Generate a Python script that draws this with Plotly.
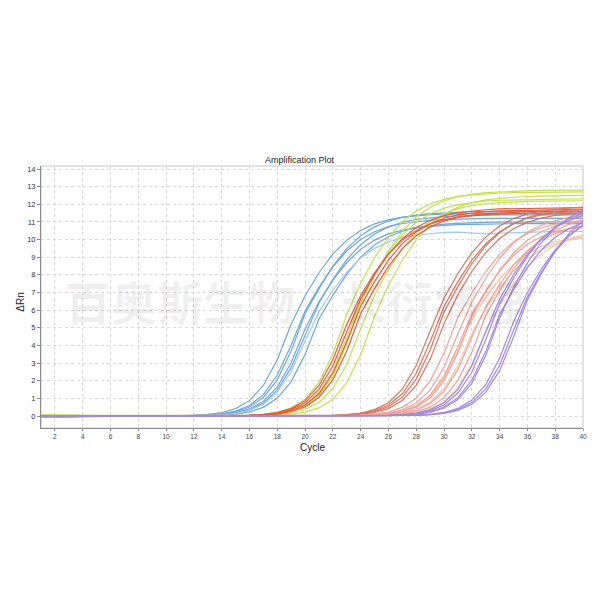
import plotly.graph_objects as go

cycles = [1, 2, 3, 4, 5, 6, 7, 8, 9, 10, 11, 12, 13, 14, 15, 16, 17, 18, 19, 20,
          21, 22, 23, 24, 25, 26, 27, 28, 29, 30, 31, 32, 33, 34, 35, 36, 37, 38, 39, 40]

x_ticks = [2, 4, 6, 8, 10, 12, 14, 16, 18, 20, 22, 24, 26, 28, 30, 32, 34, 36, 38, 40]
y_ticks = [0, 1, 2, 3, 4, 5, 6, 7, 8, 9, 10, 11, 12, 13, 14]

# ---- blue group ----
blue_1 = [-0.06, -0.04, -0.02, -0.01, 0, 0, 0, 0, 0, 0.01,
          0.02, 0.04, 0.09, 0.20, 0.42, 0.87, 1.73, 3.19, 5.20, 6.82,
          8.12, 9.18, 9.97, 10.52, 10.89, 11.12, 11.27, 11.35, 11.41, 11.44,
          11.47, 11.48, 11.5, 11.5, 11.5, 11.5, 11.5, 11.5, 11.5, 11.5]
blue_2 = [-0.05, -0.04, -0.02, 0, 0, 0, 0, 0, 0, 0,
          0.01, 0.03, 0.06, 0.13, 0.28, 0.59, 1.21, 2.32, 4.03, 5.95,
          7.29, 8.46, 9.35, 10.00, 10.44, 10.73, 10.91, 11.02, 11.09, 11.13,
          11.16, 11.18, 11.2, 11.2, 11.2, 11.2, 11.2, 11.2, 11.2, 11.2]
blue_3 = [-0.07, -0.05, -0.03, -0.01, 0, 0, 0, 0, 0, 0,
          0.01, 0.02, 0.05, 0.11, 0.24, 0.51, 1.05, 2.05, 3.68, 5.80,
          7.22, 8.48, 9.49, 10.22, 10.72, 11.05, 11.26, 11.39, 11.47, 11.52,
          11.55, 11.58, 11.59, 11.6, 11.6, 11.6, 11.6, 11.6, 11.6, 11.6]
blue_4 = [-0.05, -0.03, -0.02, 0, 0, 0, 0, 0, 0, 0,
          0.01, 0.02, 0.04, 0.09, 0.19, 0.40, 0.83, 1.64, 3.02, 4.93,
          6.46, 7.70, 8.70, 9.45, 9.97, 10.32, 10.54, 10.68, 10.76, 10.81,
          10.85, 10.87, 10.88, 10.9, 10.9, 10.9, 10.9, 10.9, 10.9, 10.9]
blue_5 = [-0.06, -0.05, -0.03, -0.01, 0, 0, 0, 0, 0, 0,
          0.01, 0.02, 0.04, 0.08, 0.16, 0.35, 0.72, 1.46, 2.74, 4.62,
          6.41, 7.74, 8.86, 9.71, 10.32, 10.72, 10.98, 11.14, 11.24, 11.30,
          11.34, 11.37, 11.38, 11.4, 11.4, 11.4, 11.4, 11.4, 11.4, 11.4]
blue_6 = [-0.05, -0.04, -0.02, -0.01, 0, 0, 0, 0, 0, 0,
          0, 0.01, 0.02, 0.05, 0.11, 0.23, 0.49, 1.00, 1.95, 3.49,
          5.50, 6.84, 8.04, 9.00, 9.69, 10.16, 10.48, 10.68, 10.80, 10.88,
          10.92, 10.96, 10.98, 10.99, 11.0, 11.0, 11.0, 11.0, 11.0, 11.0]
lightblue_1 = [-0.05, -0.03, -0.02, 0, 0, 0, 0, 0, 0, 0,
               0.01, 0.01, 0.03, 0.07, 0.15, 0.32, 0.67, 1.34, 2.52, 4.25,
               5.90, 7.13, 8.16, 8.95, 9.50, 9.87, 10.11, 10.26, 10.35, 10.41,
               10.42, 10.35, 10.32, 10.36, 10.40, 10.42, 10.44, 10.45, 10.46, 10.47]

# ---- green group ----
green_1 = [0.05, 0.04, 0.03, 0.02, 0.01, 0.01, 0, 0, 0, 0,
           0, 0, 0, 0.01, 0.02, 0.05, 0.10, 0.22, 0.46, 0.96,
           1.91, 3.52, 5.74, 7.53, 8.97, 10.13, 11.01, 11.62, 12.03, 12.28,
           12.45, 12.53, 12.60, 12.64, 12.66, 12.67, 12.7, 12.7, 12.7, 12.7]
green_2 = [0.04, 0.04, 0.03, 0.02, 0.01, 0, 0, 0, 0, 0,
           0, 0, 0, 0, 0.01, 0.03, 0.07, 0.15, 0.31, 0.65,
           1.33, 2.55, 4.43, 6.53, 8.01, 9.29, 10.27, 10.98, 11.46, 11.78,
           11.98, 12.10, 12.18, 12.23, 12.25, 12.28, 12.3, 12.3, 12.3, 12.3]
green_3 = [0.05, 0.04, 0.03, 0.02, 0.01, 0, 0, 0, 0, 0,
           0, 0, 0, 0, 0.01, 0.03, 0.06, 0.13, 0.27, 0.56,
           1.16, 2.27, 4.06, 6.40, 7.96, 9.36, 10.47, 11.28, 11.83, 12.20,
           12.43, 12.57, 12.66, 12.71, 12.75, 12.77, 12.79, 12.8, 12.8, 12.8]
green_4 = [0.04, 0.03, 0.02, 0.02, 0.01, 0, 0, 0, 0, 0,
           0, 0, 0, 0, 0.01, 0.02, 0.04, 0.08, 0.17, 0.37,
           0.77, 1.56, 2.93, 4.94, 6.86, 8.28, 9.48, 10.39, 11.04, 11.47,
           11.75, 11.92, 12.03, 12.09, 12.14, 12.16, 12.18, 12.2, 12.2, 12.2]
green_5 = [0.05, 0.04, 0.03, 0.02, 0.01, 0, 0, 0, 0, 0,
           0, 0, 0, 0, 0, 0.01, 0.02, 0.05, 0.10, 0.22,
           0.46, 0.95, 1.88, 3.46, 5.65, 7.41, 8.83, 9.98, 10.84, 11.44,
           11.84, 12.09, 12.25, 12.34, 12.40, 12.44, 12.46, 12.48, 12.5, 12.5]

# ---- red group ----
red_1 = [0.01, 0.01, 0, 0, 0, 0, 0, 0, 0, 0,
         0, 0, 0, 0.01, 0.02, 0.04, 0.08, 0.17, 0.36, 0.75,
         1.51, 2.83, 4.78, 6.63, 8.01, 9.17, 10.05, 10.68, 11.09, 11.36,
         11.53, 11.63, 11.69, 11.74, 11.76, 11.78, 11.8, 11.8, 11.8, 11.8]
red_2 = [0.01, 0, 0, 0, 0, 0, 0, 0, 0, 0,
         0, 0, 0, 0.01, 0.02, 0.04, 0.09, 0.20, 0.42, 0.87,
         1.73, 3.19, 5.20, 6.82, 8.12, 9.18, 9.97, 10.52, 10.89, 11.12,
         11.27, 11.35, 11.41, 11.44, 11.47, 11.48, 11.5, 11.5, 11.5, 11.5]
red_3 = [0.01, 0.01, 0, 0, 0, 0, 0, 0, 0, 0,
         0, 0, 0, 0, 0.01, 0.03, 0.06, 0.14, 0.30, 0.62,
         1.26, 2.42, 4.21, 6.21, 7.62, 8.83, 9.77, 10.45, 10.90, 11.21,
         11.40, 11.51, 11.58, 11.63, 11.65, 11.68, 11.7, 11.7, 11.7, 11.7]
red_4 = [0.01, 0, 0, 0, 0, 0, 0, 0, 0, 0,
         0, 0, 0, 0, 0.01, 0.02, 0.05, 0.11, 0.24, 0.51,
         1.05, 2.05, 3.68, 5.80, 7.22, 8.48, 9.49, 10.22, 10.72, 11.05,
         11.26, 11.39, 11.47, 11.52, 11.55, 11.58, 11.59, 11.6, 11.6, 11.6]

# ---- dark red group ----
darkred_1 = [0.01, 0.01, 0, 0, 0, 0, 0, 0, 0, 0,
             0, 0, 0, 0, 0, 0, 0, 0, 0, 0.01,
             0.02, 0.04, 0.08, 0.17, 0.36, 0.75, 1.52, 2.86, 4.82, 6.69,
             8.08, 9.25, 10.14, 10.77, 11.19, 11.46, 11.63, 11.73, 11.79, 11.84]
darkred_2 = [0.01, 0, 0, 0, 0, 0, 0, 0, 0, 0,
             0, 0, 0, 0, 0, 0, 0, 0, 0, 0,
             0.01, 0.03, 0.06, 0.14, 0.30, 0.62, 1.26, 2.42, 4.21, 6.21,
             7.62, 8.83, 9.77, 10.45, 10.90, 11.21, 11.40, 11.51, 11.58, 11.63]
darkred_3 = [0.01, 0, 0, 0, 0, 0, 0, 0, 0, 0,
             0, 0, 0, 0, 0, 0, 0, 0, 0, 0,
             0.01, 0.02, 0.05, 0.12, 0.25, 0.52, 1.07, 2.09, 3.74, 5.90,
             7.34, 8.63, 9.65, 10.40, 10.90, 11.25, 11.46, 11.59, 11.67, 11.72]
darkred_4 = [0.01, 0, 0, 0, 0, 0, 0, 0, 0, 0,
             0, 0, 0, 0, 0, 0, 0, 0, 0, 0,
             0.01, 0.02, 0.04, 0.09, 0.20, 0.42, 0.88, 1.74, 3.21, 5.24,
             6.88, 8.19, 9.26, 10.06, 10.61, 10.99, 11.22, 11.37, 11.45, 11.51]

# ---- salmon group ----
salmon_1 = [0.01, 0.01, 0, 0, 0, 0, 0, 0, 0, 0,
            0, 0, 0, 0, 0, 0, 0, 0, 0, 0,
            0, 0.01, 0.02, 0.05, 0.11, 0.23, 0.49, 1.01, 1.98, 3.55,
            5.60, 6.97, 8.19, 9.16, 9.87, 10.35, 10.67, 10.88, 11.00, 11.08]
salmon_2 = [0.01, 0, 0, 0, 0, 0, 0, 0, 0, 0,
            0, 0, 0, 0, 0, 0, 0, 0, 0, 0,
            0, 0.01, 0.02, 0.04, 0.08, 0.16, 0.35, 0.73, 1.47, 2.76,
            4.66, 6.46, 7.81, 8.94, 9.80, 10.41, 10.81, 11.07, 11.24, 11.34]
salmon_3 = [0.01, 0, 0, 0, 0, 0, 0, 0, 0, 0,
            0, 0, 0, 0, 0, 0, 0, 0, 0, 0,
            0, 0, 0.01, 0.03, 0.06, 0.13, 0.28, 0.58, 1.18, 2.26,
            3.92, 5.79, 7.10, 8.23, 9.10, 9.73, 10.16, 10.44, 10.62, 10.73]
salmon_4 = [0.01, 0.01, 0, 0, 0, 0, 0, 0, 0, 0,
            0, 0, 0, 0, 0, 0, 0, 0, 0, 0,
            0, 0, 0.01, 0.02, 0.05, 0.11, 0.24, 0.50, 1.02, 2.00,
            3.58, 5.65, 7.03, 8.26, 9.24, 9.96, 10.44, 10.77, 10.97, 11.10]
salmon_5 = [0.01, 0, 0, 0, 0, 0, 0, 0, 0, 0,
            0, 0, 0, 0, 0, 0, 0, 0, 0, 0,
            0, 0, 0.01, 0.02, 0.03, 0.07, 0.16, 0.33, 0.70, 1.41,
            2.64, 4.46, 6.18, 7.47, 8.55, 9.37, 9.96, 10.34, 10.59, 10.75]
salmon_6 = [0.01, 0, 0, 0, 0, 0, 0, 0, 0, 0,
            0, 0, 0, 0, 0, 0, 0, 0, 0, 0,
            0, 0, 0, 0.01, 0.02, 0.05, 0.11, 0.24, 0.50, 1.03,
            2.02, 3.61, 5.70, 7.09, 8.33, 9.33, 10.04, 10.53, 10.86, 11.07]

# ---- peach group ----
peach_1 = [0.01, 0, 0, 0, 0, 0, 0, 0, 0, 0,
           0, 0, 0, 0, 0, 0, 0, 0, 0, 0,
           0, 0, 0.01, 0.03, 0.06, 0.12, 0.26, 0.54, 1.11, 2.13,
           3.71, 5.47, 6.71, 7.78, 8.60, 9.20, 9.60, 9.87, 10.03, 10.14]
peach_2 = [0.01, 0, 0, 0, 0, 0, 0, 0, 0, 0,
           0, 0, 0, 0, 0, 0, 0, 0, 0, 0,
           0, 0, 0.01, 0.02, 0.04, 0.08, 0.18, 0.38, 0.78, 1.55,
           2.85, 4.66, 6.11, 7.27, 8.22, 8.93, 9.42, 9.75, 9.96, 10.09]
peach_3 = [0.01, 0, 0, 0, 0, 0, 0, 0, 0, 0,
           0, 0, 0, 0, 0, 0, 0, 0, 0, 0,
           0, 0, 0, 0.01, 0.02, 0.04, 0.09, 0.18, 0.39, 0.80,
           1.59, 2.94, 4.79, 6.29, 7.48, 8.46, 9.19, 9.70, 10.04, 10.25]

# ---- purple group ----
purple_1 = [0.01, 0, 0, 0, 0, 0, 0, 0, 0, 0,
            0, 0, 0, 0, 0, 0, 0, 0, 0, 0,
            0, 0, 0, 0.01, 0.02, 0.04, 0.08, 0.17, 0.36, 0.75,
            1.51, 2.83, 4.78, 6.63, 8.01, 9.17, 10.05, 10.68, 11.09, 11.36]
purple_2 = [0.01, 0, 0, 0, 0, 0, 0, 0, 0, 0,
            0, 0, 0, 0, 0, 0, 0, 0, 0, 0,
            0, 0, 0, 0, 0.01, 0.03, 0.07, 0.14, 0.30, 0.63,
            1.30, 2.48, 4.32, 6.37, 7.81, 9.06, 10.02, 10.72, 11.18, 11.50]
purple_3 = [0.01, 0, 0, 0, 0, 0, 0, 0, 0, 0,
            0, 0, 0, 0, 0, 0, 0, 0, 0, 0,
            0, 0, 0, 0, 0.01, 0.02, 0.05, 0.11, 0.24, 0.51,
            1.04, 2.04, 3.65, 5.75, 7.15, 8.41, 9.41, 10.13, 10.63, 10.96]
purple_4 = [0.01, 0, 0, 0, 0, 0, 0, 0, 0, 0,
            0, 0, 0, 0, 0, 0, 0, 0, 0, 0,
            0, 0, 0, 0, 0.01, 0.02, 0.05, 0.10, 0.21, 0.45,
            0.93, 1.85, 3.41, 5.56, 7.29, 8.68, 9.82, 10.66, 11.25, 11.65]
purple_5 = [0.01, 0, 0, 0, 0, 0, 0, 0, 0, 0,
            0, 0, 0, 0, 0, 0, 0, 0, 0, 0,
            0, 0, 0, 0, 0, 0.01, 0.02, 0.04, 0.10, 0.20,
            0.43, 0.90, 1.77, 3.27, 5.33, 7.00, 8.33, 9.42, 10.23, 10.80]
purple_6 = [0.01, 0, 0, 0, 0, 0, 0, 0, 0, 0,
            0, 0, 0, 0, 0, 0, 0, 0, 0, 0,
            0, 0, 0, 0, 0, 0.01, 0.02, 0.04, 0.08, 0.17,
            0.36, 0.76, 1.54, 2.88, 4.86, 6.74, 8.15, 9.32, 10.22, 10.86]
purple_7 = [0.01, 0, 0, 0, 0, 0, 0, 0, 0, 0,
            0, 0, 0, 0, 0, 0, 0, 0, 0, 0,
            0, 0, 0, 0, 0, 0, 0.01, 0.03, 0.07, 0.15,
            0.31, 0.66, 1.34, 2.57, 4.46, 6.58, 8.07, 9.36, 10.35, 11.07]

groups = [
    ("#6fa6dc", [blue_1, blue_2, blue_3, blue_4, blue_5, blue_6]),
    ("#a6cbea", [lightblue_1]),
    ("#c2e24c", [green_1, green_2, green_3, green_4, green_5]),
    ("#e65a3e", [red_1, red_2, red_3, red_4]),
    ("#d9765f", [darkred_1, darkred_2, darkred_3, darkred_4]),
    ("#f6c5a8", [peach_1, peach_2, peach_3]),
    ("#f1a196", [salmon_1, salmon_2, salmon_3, salmon_4, salmon_5, salmon_6]),
    ("#a189e3", [purple_1, purple_2, purple_3, purple_4, purple_5, purple_6, purple_7]),
]

fig = go.Figure()
for color, series in groups:
    for vals in series:
        fig.add_trace(go.Scatter(
            x=cycles, y=vals, mode="lines",
            line=dict(color=color, width=1.2),
            showlegend=False, hoverinfo="skip",
        ))

font_main = "Liberation Sans, Arial, sans-serif"

fig.update_layout(
    width=584, height=584,
    paper_bgcolor="white", plot_bgcolor="white",
    margin=dict(l=33, r=5, t=158, b=164),
    font=dict(family=font_main, color="#333333"),
    xaxis=dict(
        range=[1, 40], tickvals=x_ticks, ticktext=[str(v) for v in x_ticks],
        showgrid=True, gridcolor="#d9d9d9", griddash="dot", gridwidth=1,
        zeroline=False, showline=True, linecolor="#8c8c8c", linewidth=1,
        ticks="outside", ticklen=2, tickcolor="#8c8c8c",
        tickfont=dict(size=6.5, color="#444444"),
    ),
    yaxis=dict(
        range=[-0.68, 14.17], tickvals=y_ticks, ticktext=[str(v) for v in y_ticks],
        showgrid=True, gridcolor="#d9d9d9", griddash="dot", gridwidth=1,
        zeroline=False, showline=True, linecolor="#8c8c8c", linewidth=1,
        ticks="outside", ticklen=3, tickcolor="#8c8c8c",
        tickfont=dict(size=7.5, color="#333333"),
    ),
    shapes=[dict(type="rect", xref="paper", yref="paper", x0=0, y0=0, x1=1, y1=1,
                 line=dict(color="#c8c8c8", width=1), layer="below")],
    annotations=[
        dict(text="百奥斯生物｜长衍病理", xref="paper", yref="paper",
             x=0.469, y=0.489, xanchor="center", yanchor="middle", showarrow=False,
             font=dict(family="Noto Sans CJK SC", size=46, color="rgba(0,0,0,0.06)",
                       weight="bold")),
        dict(text="Amplification Plot", xref="paper", yref="paper",
             x=0.478, y=1.023, xanchor="center", yanchor="middle", showarrow=False,
             font=dict(family=font_main, size=9, color="#222222")),
        dict(text="Cycle", xref="paper", yref="paper",
             x=0.5, y=-0.073, xanchor="center", yanchor="middle", showarrow=False,
             font=dict(family=font_main, size=10, color="#222222")),
        dict(text="ΔRn", xref="paper", yref="paper",
             x=-0.038, y=0.48, xanchor="center", yanchor="middle", showarrow=False,
             textangle=-90,
             font=dict(family=font_main, size=10, color="#222222")),
    ],
)

fig.write_html("out.html")
